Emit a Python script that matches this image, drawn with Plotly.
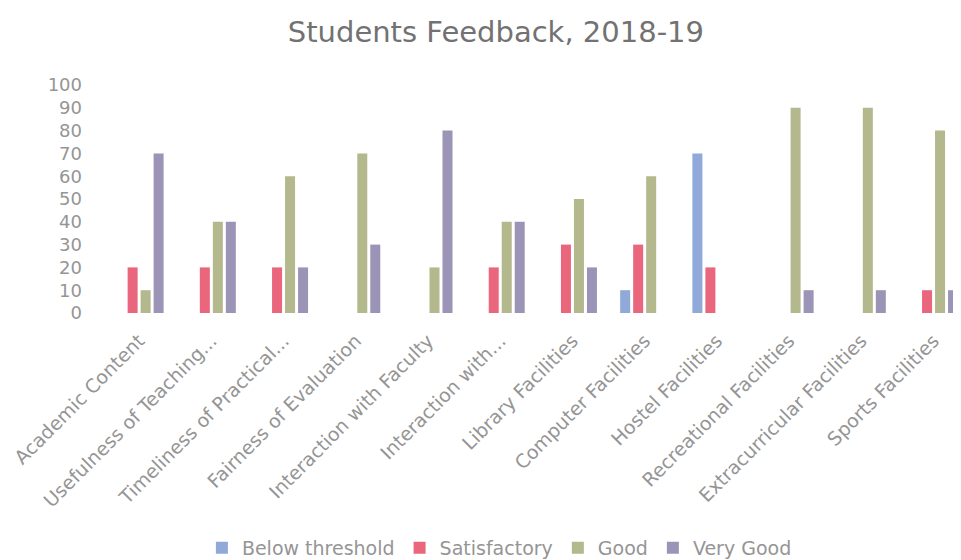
import plotly.graph_objects as go

categories = ["Academic Content", "Usefulness of Teaching...", "Timeliness of Practical...",
              "Fairness of Evaluation", "Interaction with Faculty", "Interaction with...",
              "Library Facilities", "Computer Facilities", "Hostel Facilities",
              "Recreational Facilities", "Extracurricular Facilities", "Sports Facilities"]
below_threshold = [0, 0, 0, 0, 0, 0, 0, 10, 70, 0, 0, 0]
satisfactory = [20, 20, 20, 0, 0, 20, 30, 30, 20, 0, 0, 10]
good = [10, 40, 60, 70, 20, 40, 50, 60, 0, 90, 90, 80]
very_good = [70, 40, 20, 30, 80, 40, 20, 0, 0, 10, 10, 10]
y_ticks = list(range(0, 101, 10))

series = [
    ("Below threshold", below_threshold, "#8fa9d8"),
    ("Satisfactory", satisfactory, "#e9667d"),
    ("Good", good, "#b3b98c"),
    ("Very Good", very_good, "#9c94b6"),
]

fig = go.Figure()
for name, vals, color in series:
    fig.add_trace(go.Bar(x=categories, y=vals, name=name, marker_color=color,
                         marker_line_width=0))

FONT = "DejaVu Sans, sans-serif"
TXT = "#959595"
# page body has an 8px margin, so the figure is sized/offset to compensate
fig.update_layout(
    width=953, height=552,
    margin=dict(l=95, r=0, t=77, b=247, autoexpand=False),
    paper_bgcolor="white", plot_bgcolor="white",
    font=dict(family=FONT, color=TXT, size=16),
    title=dict(text="Students Feedback, 2018-19", x=0.512, xanchor="center",
               y=1 - 24 / 552, yanchor="middle",
               font=dict(family=FONT, size=29, color="#727272")),
    barmode="group", bargap=0.28, bargroupgap=0.23,
    showlegend=True,
    legend=dict(orientation="h", x=0.462, xanchor="center", y=-1.03, yanchor="middle",
                font=dict(family=FONT, size=19, color=TXT), itemwidth=30,
                traceorder="normal"),
    xaxis=dict(range=[-0.5, 11.38], tickangle=-45, showgrid=False, showline=False,
               ticks="", automargin=False, ticklabelstandoff=12,
               tickfont=dict(family=FONT, size=19, color=TXT)),
    yaxis=dict(range=[0, 100], tickvals=y_ticks, showgrid=False, showline=False,
               zeroline=False, ticks="", automargin=False, ticklabelstandoff=20,
               tickfont=dict(family=FONT, size=18, color=TXT)),
)

fig.write_html("out.html")
